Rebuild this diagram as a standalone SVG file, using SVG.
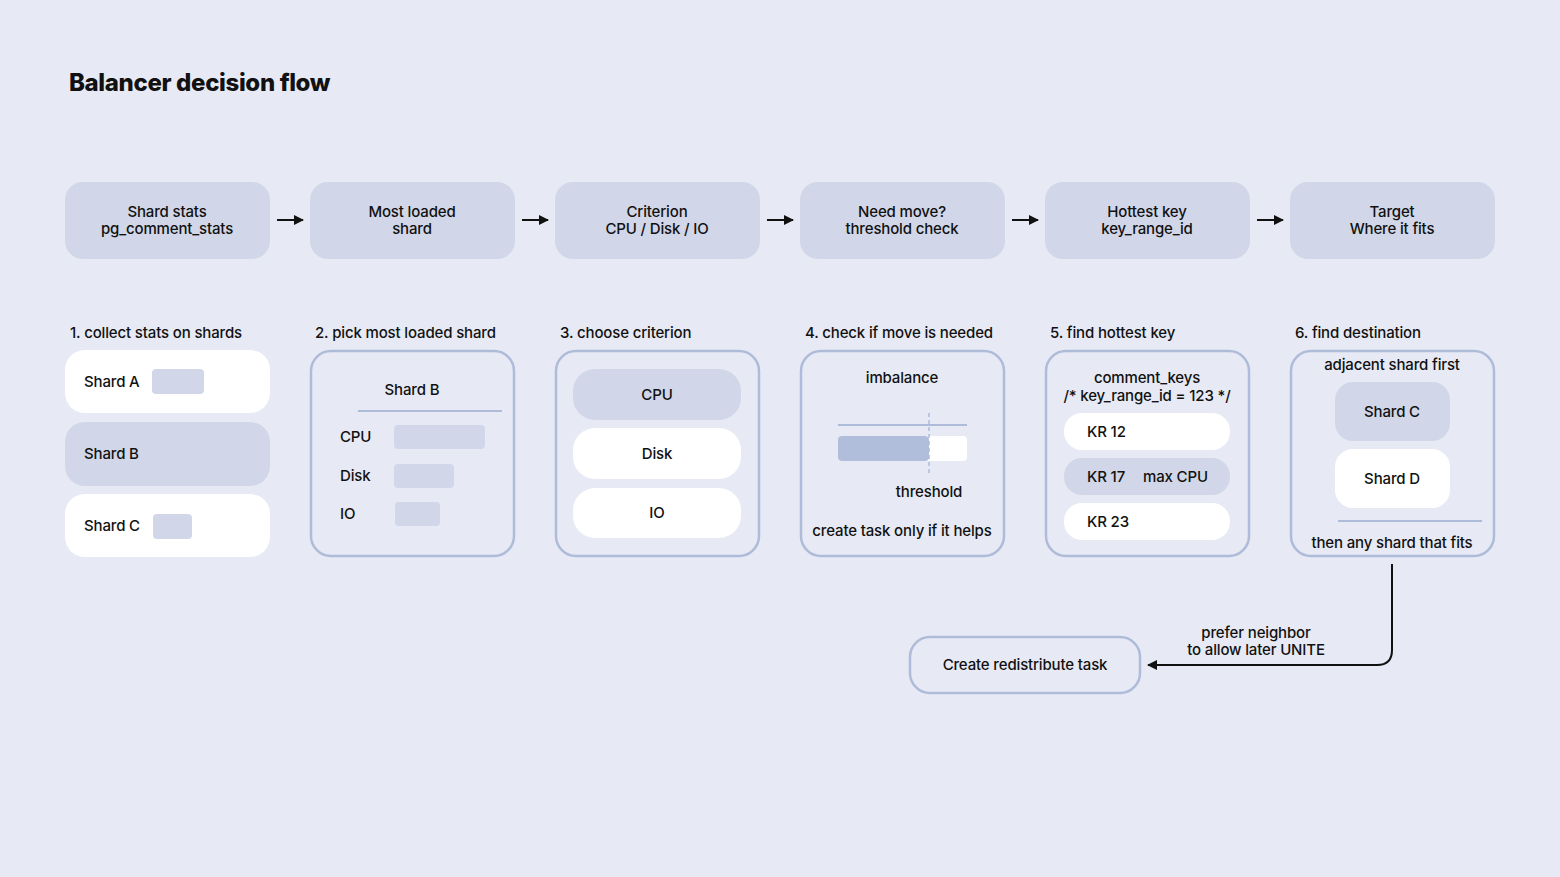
<svg xmlns="http://www.w3.org/2000/svg" width="1560" height="877" viewBox="0 0 1560 877">
<defs>
<marker id="ah" viewBox="0 0 10 10" refX="9" refY="5" markerWidth="10" markerHeight="10" markerUnits="userSpaceOnUse" orient="auto">
<path d="M0,0 L10,5 L0,10 Z" fill="#111"/>
</marker>
<style>
text{font-family:Inter,"Noto Sans","Liberation Sans",sans-serif;font-size:15px;font-weight:500;fill:#111;letter-spacing:-0.15px;}
.c{text-anchor:middle;}
.title{font-size:24px;font-weight:800;letter-spacing:-0.35px;}
.top{fill:#d1d7e8;}
.fill{fill:#d1d7e8;}
.white{fill:#ffffff;}
.outl{fill:none;stroke:#aebbd9;stroke-width:2.5;}
.conn{fill:none;stroke:#111;stroke-width:2;}
.sep{stroke:#aebbd9;stroke-width:2;}
</style>
</defs>
<rect x="0" y="0" width="1560" height="877" fill="#e7eaf4"/>
<text class="title" x="69" y="91">Balancer decision flow</text>

<g id="top1"><rect class="top" x="65" y="182" width="205" height="77" rx="18"/><text class="c" x="167" y="217">Shard stats</text><text class="c" x="167" y="234">pg_comment_stats</text></g>
<g id="top2"><rect class="top" x="310" y="182" width="205" height="77" rx="18"/><text class="c" x="412" y="217">Most loaded</text><text class="c" x="412" y="234">shard</text></g>
<g id="top3"><rect class="top" x="555" y="182" width="205" height="77" rx="18"/><text class="c" x="657" y="217">Criterion</text><text class="c" x="657" y="234">CPU / Disk / IO</text></g>
<g id="top4"><rect class="top" x="800" y="182" width="205" height="77" rx="18"/><text class="c" x="902" y="217">Need move?</text><text class="c" x="902" y="234">threshold check</text></g>
<g id="top5"><rect class="top" x="1045" y="182" width="205" height="77" rx="18"/><text class="c" x="1147" y="217">Hottest key</text><text class="c" x="1147" y="234">key_range_id</text></g>
<g id="top6"><rect class="top" x="1290" y="182" width="205" height="77" rx="18"/><text class="c" x="1392" y="217">Target</text><text class="c" x="1392" y="234">Where it fits</text></g>

<g id="step1">
<text x="70" y="338">1. collect stats on shards</text>
<rect class="white" x="65" y="350" width="205" height="63" rx="20"/>
<text x="84" y="387">Shard A</text>
<rect class="fill" x="152" y="369" width="52" height="25" rx="4"/>
<rect class="fill" x="65" y="422" width="205" height="64" rx="20"/>
<text x="84" y="459">Shard B</text>
<rect class="white" x="65" y="494" width="205" height="63" rx="20"/>
<text x="84" y="531">Shard C</text>
<rect class="fill" x="153" y="514" width="39" height="25" rx="4"/>
</g>

<g id="step2">
<text x="315" y="338">2. pick most loaded shard</text>
<rect class="outl" x="311" y="351" width="203" height="205" rx="20"/>
<text class="c" x="412" y="395">Shard B</text>
<line class="sep" x1="358" y1="411" x2="502" y2="411"/>
<text x="340" y="442">CPU</text>
<rect class="fill" x="394" y="425" width="91" height="24" rx="4"/>
<text x="340" y="481">Disk</text>
<rect class="fill" x="394" y="464" width="60" height="24" rx="4"/>
<text x="340" y="519">IO</text>
<rect class="fill" x="395" y="502" width="45" height="24" rx="4"/>
</g>

<g id="step3">
<text x="560" y="338">3. choose criterion</text>
<rect class="outl" x="556" y="351" width="203" height="205" rx="20"/>
<rect class="fill" x="573" y="369" width="168" height="51" rx="22"/>
<text class="c" x="657" y="400">CPU</text>
<rect class="white" x="573" y="428" width="168" height="51" rx="22"/>
<text class="c" x="657" y="459">Disk</text>
<rect class="white" x="573" y="488" width="168" height="50" rx="22"/>
<text class="c" x="657" y="518">IO</text>
</g>

<g id="step4">
<text x="805" y="338">4. check if move is needed</text>
<rect class="outl" x="801" y="351" width="203" height="205" rx="20"/>
<text class="c" x="902" y="383">imbalance</text>
<line class="sep" x1="838" y1="425" x2="967" y2="425"/>
<rect class="white" x="918" y="436" width="49" height="25" rx="4"/>
<rect x="838" y="436" width="91" height="25" rx="4" fill="#b1bedb"/>
<line x1="929" y1="413" x2="929" y2="475" stroke="#aebbd9" stroke-width="1.5" stroke-dasharray="4,3"/>
<text class="c" x="929" y="497">threshold</text>
<text class="c" x="902" y="536">create task only if it helps</text>
</g>

<g id="step5">
<text x="1050" y="338">5. find hottest key</text>
<rect class="outl" x="1046" y="351" width="203" height="205" rx="20"/>
<text class="c" x="1147" y="383">comment_keys</text>
<text class="c" x="1147" y="401">/* key_range_id = 123 */</text>
<rect class="white" x="1064" y="413" width="166" height="37" rx="18"/>
<text x="1087" y="437">KR 12</text>
<rect class="fill" x="1064" y="458" width="166" height="37" rx="18"/>
<text x="1087" y="482">KR 17</text>
<text x="1143" y="482">max CPU</text>
<rect class="white" x="1064" y="503" width="166" height="37" rx="18"/>
<text x="1087" y="527">KR 23</text>
</g>

<g id="step6">
<text x="1295" y="338">6. find destination</text>
<rect class="outl" x="1291" y="351" width="203" height="205" rx="20"/>
<text class="c" x="1392" y="370">adjacent shard first</text>
<rect class="fill" x="1335" y="382" width="115" height="59" rx="18"/>
<text class="c" x="1392" y="417">Shard C</text>
<rect class="white" x="1335" y="449" width="115" height="59" rx="18"/>
<text class="c" x="1392" y="484">Shard D</text>
<line class="sep" x1="1338" y1="521" x2="1482" y2="521"/>
<text class="c" x="1392" y="548">then any shard that fits</text>
</g>

<g id="task">
<rect class="outl" x="910" y="637" width="230" height="56" rx="20"/>
<text class="c" x="1025" y="670">Create redistribute task</text>
</g>

<g id="connectors">
<line class="conn" x1="277" y1="220" x2="303" y2="220" marker-end="url(#ah)"/>
<line class="conn" x1="522" y1="220" x2="548" y2="220" marker-end="url(#ah)"/>
<line class="conn" x1="767" y1="220" x2="793" y2="220" marker-end="url(#ah)"/>
<line class="conn" x1="1012" y1="220" x2="1038" y2="220" marker-end="url(#ah)"/>
<line class="conn" x1="1257" y1="220" x2="1283" y2="220" marker-end="url(#ah)"/>
<path class="conn" d="M1392,564 L1392,650 Q1392,665 1377,665 L1148,665" marker-end="url(#ah)"/>
<text class="c" x="1256" y="638">prefer neighbor</text>
<text class="c" x="1256" y="655">to allow later UNITE</text>
</g>
</svg>
